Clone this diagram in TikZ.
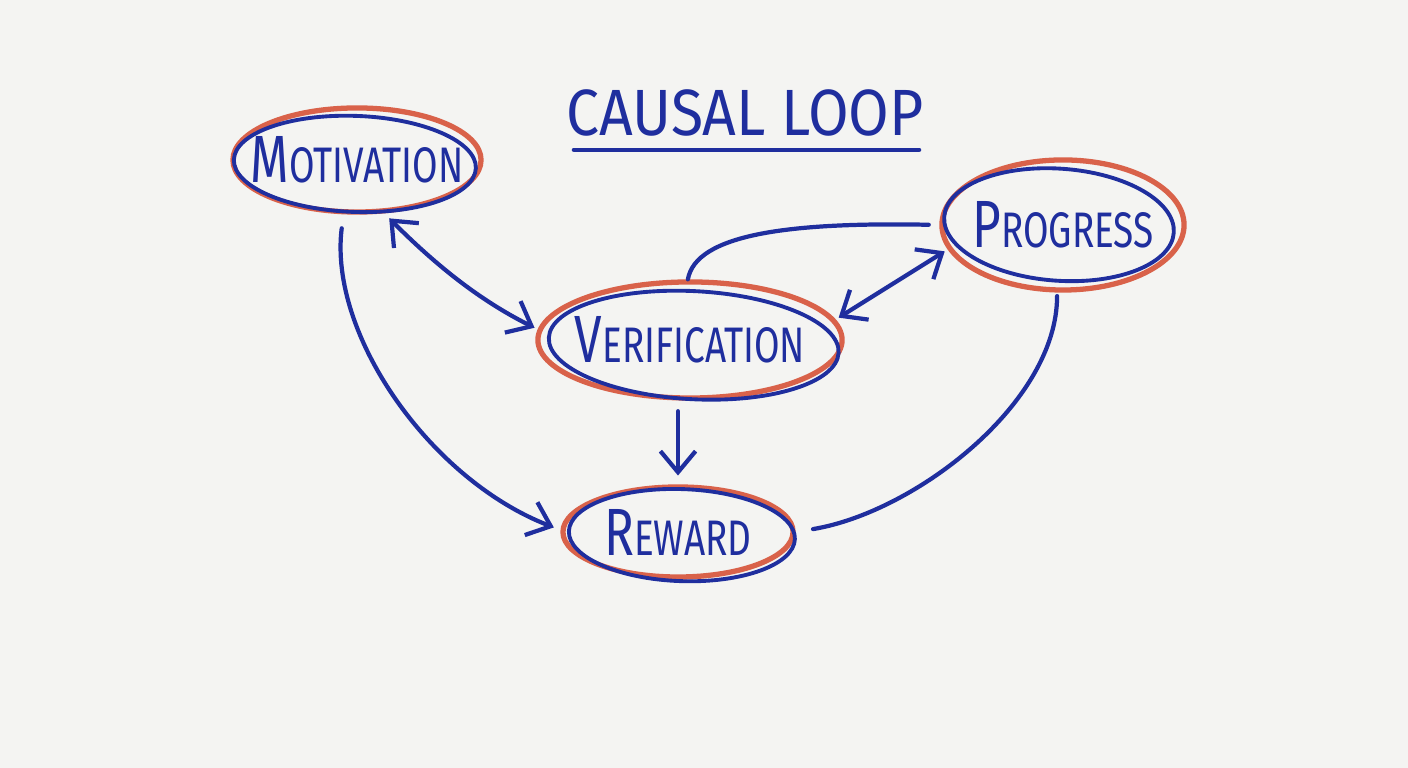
\documentclass[tikz,border=0pt]{standalone}
\usepackage{fontspec}
\newfontfamily\hand[FakeStretch=0.74]{Fira Sans}
\newfontfamily\handwide[FakeStretch=0.9]{Fira Sans}
\usetikzlibrary{arrows.meta,shapes.geometric,calc}
\definecolor{pen}{HTML}{1F2E9E}
\definecolor{ring}{HTML}{D9624A}
\definecolor{board}{HTML}{F4F4F2}
\tikzset{
    bubble/.style={ellipse, draw=ring, line width=1.5pt, inner sep=0pt},
    word/.style={text=pen, font=\hand\fontsize{14.2}{16}\selectfont},
    penring/.style={draw=pen, line width=1.1pt},
    link/.style={draw=pen, line width=1.2pt, line cap=round},
    tip/.style={-{Straight Barb[length=6pt,width=10pt]}},
    bothtips/.style={{Straight Barb[length=6pt,width=10pt]}-{Straight Barb[length=6pt,width=10pt]}}
}
\newcommand{\bigfirst}[2]{{\fontsize{19}{20}\selectfont #1}#2}

\begin{document}
\begin{tikzpicture}[x=0.01cm,y=-0.01cm]
\fill[board] (0,0) rectangle (1408,768);
\useasboundingbox (0,0) rectangle (1408,768);
\node[text=pen, font=\handwide\fontsize{18.6}{20}\selectfont] (ttl) at (745,113) {CAUSAL LOOP};
\draw[link] ([shift={(20,1)}]ttl.south west) -- ([shift={(-17,1)}]ttl.south east);
\node[bubble, minimum width=2.48cm, minimum height=1.04cm, label={[word]center:\bigfirst{M}{OTIVATION}}] (mot) at (357,160) {};
\node[bubble, minimum width=3.04cm, minimum height=1.16cm, label={[word]center:\bigfirst{V}{ERIFICATION}}] (ver) at (690,340) {};
\node[bubble, minimum width=2.42cm, minimum height=1.30cm, label={[word]center:\bigfirst{P}{ROGRESS}}] (pro) at (1063,225) {};
\node[bubble, minimum width=2.30cm, minimum height=0.90cm, label={[word]center:\bigfirst{R}{EWARD}}] (rew) at (678,532) {};
\draw[penring, rotate around={-2:(mot.center)}] ($(mot.center)+(-2,4)$) ellipse [x radius=1.21cm, y radius=0.48cm];
\draw[penring, rotate around={-3:(ver.center)}] ($(ver.center)+(4,5)$) ellipse [x radius=1.45cm, y radius=0.54cm];
\draw[penring, rotate around={-4:(pro.center)}] ($(pro.center)+(-4,0)$) ellipse [x radius=1.15cm, y radius=0.56cm];
\draw[penring, rotate around={-2:(rew.center)}] ($(rew.center)+(4,3)$) ellipse [x radius=1.13cm, y radius=0.46cm];
\draw[link, bothtips, shorten <=2pt, shorten >=1pt] (mot.-63) .. controls +(50,50) and +(-60,-30) .. (ver.176);
\draw[link, tip, shorten <=4pt, shorten >=2pt] (mot.-104) .. controls +(-15,120) and +(-130,-50) .. (rew.179);
\draw[link, tip, shorten <=3pt, shorten >=2.5pt] (ver.south -| rew.north) -- (rew.north);
\draw[link, bothtips, shorten <=1pt, shorten >=1pt] (ver.8) -- (pro.192);
\draw[link, shorten >=3pt] (ver.92) .. controls +(8,-45) and +(-150,-3) .. (pro.180);
\draw[link, shorten <=5pt, shorten >=1pt] (rew.0) .. controls +(120,-20) and +(0,110) .. (pro.-95);
\end{tikzpicture}
\end{document}
